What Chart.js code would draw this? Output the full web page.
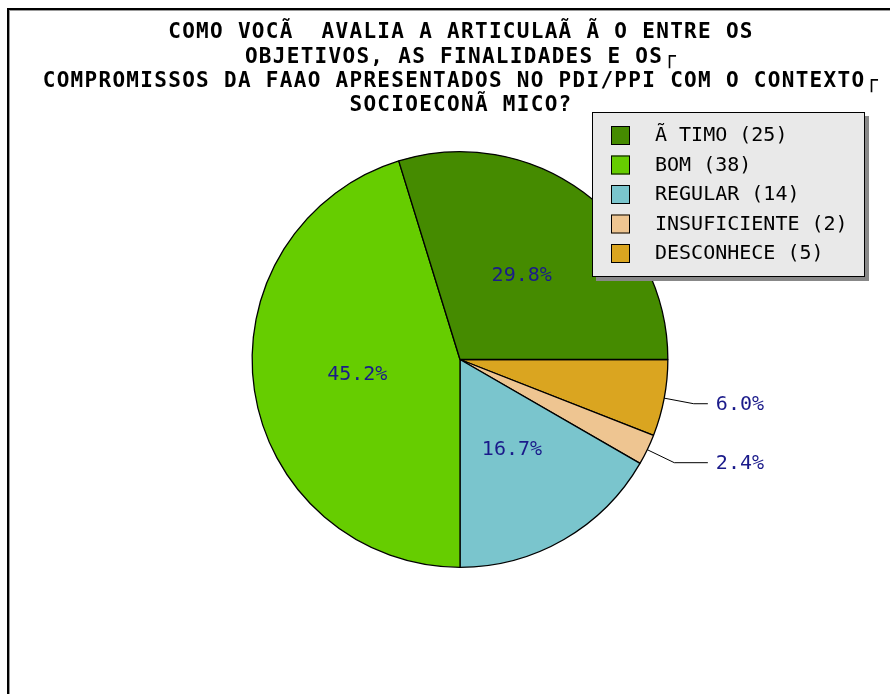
<!DOCTYPE html>
<html>
<head>
<meta charset="utf-8">
<script src="https://cdn.jsdelivr.net/npm/chart.js@4"></script>
<style>
  html, body { margin: 0; padding: 0; background: #fff; }
  canvas { display: block; }
</style>
</head>
<body>
<canvas id="grafPizza" width="890" height="694"></canvas>
<script>
(function () {

  // dados
  const categorias = ["Ã TIMO", "BOM", "REGULAR", "INSUFICIENTE", "DESCONHECE"];
  const respostas = [25, 38, 14, 2, 5];
  const cores = ["#458B00", "#66CD00", "#7AC5CD", "#EEC591", "#DAA520"];
  const titulo = [
    "COMO VOCÃ  AVALIA A ARTICULAÃ Ã O ENTRE OS",
    "OBJETIVOS, AS FINALIDADES E OS┌",
    "COMPROMISSOS DA FAAO APRESENTADOS NO PDI/PPI COM O CONTEXTO┌",
    "SOCIOECONÃ MICO?"
  ];

  const total = respostas.reduce((a, b) => a + b, 0);

  // a pizza gira no sentido anti-horario a partir do leste
  const ordem = respostas.map((_, i) => i).reverse();

  const moldura = {
    id: "moldura",
    beforeDraw(chart) {
      const ctx = chart.ctx;
      ctx.save();
      ctx.fillStyle = "#000";
      ctx.fillRect(7, 8, 883, 2);
      ctx.fillRect(7, 8, 2, 686);
      ctx.fillStyle = "#999";
      ctx.fillRect(9, 10, 881, 1);
      ctx.fillRect(9, 10, 1, 684);
      ctx.restore();
    }
  };

  const textos = {
    id: "textos",
    afterDatasetsDraw(chart) {
      const ctx = chart.ctx;
      const meta = chart.getDatasetMeta(0);

      // titulo
      ctx.save();
      ctx.fillStyle = "#000";
      ctx.font = "bold 21px 'DejaVu Sans Mono'";
      ctx.letterSpacing = "1.3px";
      ctx.textAlign = "center";
      ctx.textBaseline = "middle";
      titulo.forEach((t, i) => ctx.fillText(t, 461, 33 + i * 24.2));
      ctx.restore();

      // percentuais
      ctx.save();
      ctx.font = "20px 'DejaVu Sans Mono'";
      ctx.fillStyle = "#1a1a8a";
      ctx.textBaseline = "middle";
      meta.data.forEach((arc, j) => {
        const i = ordem[j];
        const pct = (respostas[i] / total * 100).toFixed(1) + "%";
        const p = arc.getProps(["x", "y", "startAngle", "endAngle", "outerRadius"], true);
        const meio = (p.startAngle + p.endAngle) / 2;
        const c = Math.cos(meio), s = Math.sin(meio);
        if (respostas[i] / total >= 0.1) {
          ctx.textAlign = "center";
          ctx.fillText(pct, p.x + c * p.outerRadius * 0.5, p.y + s * p.outerRadius * 0.5);
        } else {
          const r = p.outerRadius;
          const ex = p.x + c * (r + 30), ey = p.y + s * (r + 30);
          const fx = p.x + r + 40;
          ctx.strokeStyle = "#000";
          ctx.lineWidth = 1;
          ctx.beginPath();
          ctx.moveTo(p.x + c * r, p.y + s * r);
          ctx.lineTo(ex, ey);
          ctx.lineTo(fx, ey);
          ctx.stroke();
          ctx.textAlign = "left";
          ctx.fillText(pct, fx + 8, ey + 1);
        }
      });
      ctx.restore();

      // legenda
      ctx.save();
      ctx.fillStyle = "#888";
      ctx.fillRect(596, 116, 273, 165);
      ctx.fillStyle = "#e9e9e9";
      ctx.fillRect(592, 112, 273, 165);
      ctx.strokeStyle = "#000";
      ctx.lineWidth = 1;
      ctx.strokeRect(592.5, 112.5, 272, 164);
      ctx.font = "20px 'DejaVu Sans Mono'";
      ctx.textBaseline = "middle";
      ctx.textAlign = "left";
      categorias.forEach((cat, i) => {
        const y = 135 + i * 29.5;
        ctx.fillStyle = cores[i];
        ctx.fillRect(611, y - 9, 19, 19);
        ctx.strokeRect(611.5, y - 8.5, 18, 18);
        ctx.fillStyle = "#000";
        ctx.fillText(cat + " (" + respostas[i] + ")", 655, y + 1);
      });
      ctx.restore();
    }
  };

  new Chart(document.getElementById("grafPizza"), {
    type: "pie",
    data: {
      labels: ordem.map(i => categorias[i]),
      datasets: [{
        data: ordem.map(i => respostas[i]),
        backgroundColor: ordem.map(i => cores[i]),
        borderColor: "#000",
        borderWidth: 1.3
      }]
    },
    options: {
      responsive: false,
      animation: false,
      rotation: 90,
      layout: { padding: { left: 30, right: 0, top: 151, bottom: 126 } },
      plugins: {
        legend: { display: false },
        title: { display: false },
        tooltip: { enabled: false }
      }
    },
    plugins: [moldura, textos]
  });

})();
</script>
</body>
</html>
